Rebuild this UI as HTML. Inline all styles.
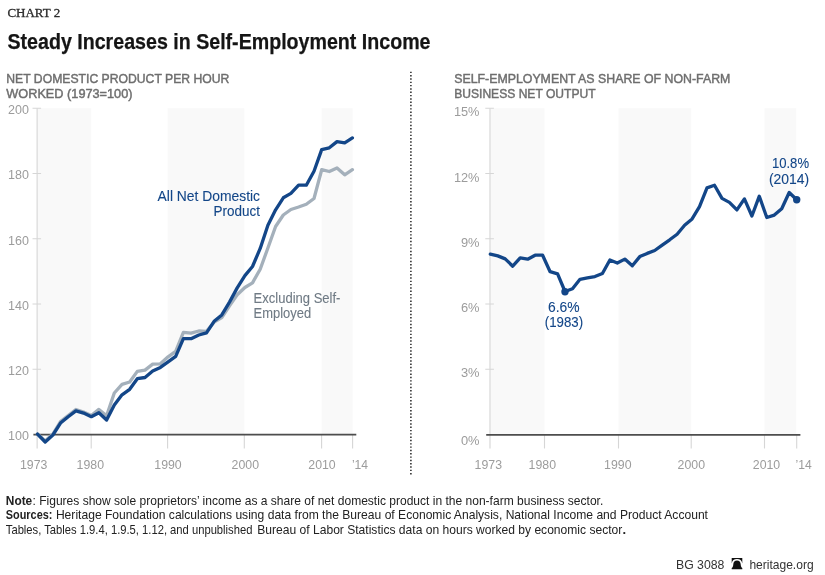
<!DOCTYPE html>
<html lang="en"><head><meta charset="utf-8"><title>Steady Increases in Self-Employment Income</title>
<style>html,body{margin:0;padding:0;background:#fff;overflow:hidden}svg{display:block}text{font-family:"Liberation Sans",Arial,sans-serif}.serif{font-family:"Liberation Serif","DejaVu Serif",serif}</style></head><body>
<svg width="825" height="575" viewBox="0 0 825 575">
<rect width="825" height="575" fill="#fff"/>
<text x="7.4" y="16.5" font-size="12" fill="#2b2b2b" class="serif" textLength="52.8" lengthAdjust="spacingAndGlyphs" stroke="#2b2b2b" stroke-width="0.3">CHART 2</text>
<text x="7.5" y="49.3" font-size="22.9" fill="#151515" font-weight="bold" textLength="423" lengthAdjust="spacingAndGlyphs" stroke="#151515" stroke-width="0.25">Steady Increases in Self-Employment Income</text>
<text x="6.3" y="83" font-size="13" fill="#6e6e6e" textLength="223.1" lengthAdjust="spacingAndGlyphs" stroke="#6e6e6e" stroke-width="0.45">NET DOMESTIC PRODUCT PER HOUR</text>
<text x="6.3" y="97.6" font-size="13" fill="#6e6e6e" textLength="126.2" lengthAdjust="spacingAndGlyphs" stroke="#6e6e6e" stroke-width="0.45">WORKED (1973=100)</text>
<text x="454.2" y="83" font-size="13" fill="#6e6e6e" textLength="276.2" lengthAdjust="spacingAndGlyphs" stroke="#6e6e6e" stroke-width="0.45">SELF-EMPLOYMENT AS SHARE OF NON-FARM</text>
<text x="454.2" y="97.6" font-size="13" fill="#6e6e6e" textLength="141.4" lengthAdjust="spacingAndGlyphs" stroke="#6e6e6e" stroke-width="0.45">BUSINESS NET OUTPUT</text>
<line x1="410.9" y1="71.7" x2="410.9" y2="474.5" stroke="#222" stroke-width="1.5" stroke-dasharray="1.4 1.9165"/>
<rect x="37.5" y="108.25" width="53.7" height="326.25" fill="#f9f9f9"/>
<rect x="167.6" y="108.25" width="76.7" height="326.25" fill="#f9f9f9"/>
<rect x="321.6" y="108.25" width="31.0" height="326.25" fill="#f9f9f9"/>
<rect x="490.3" y="108.25" width="54.2" height="326.25" fill="#f9f9f9"/>
<rect x="618.5" y="108.25" width="72.7" height="326.25" fill="#f9f9f9"/>
<rect x="764.5" y="108.25" width="31.7" height="326.25" fill="#f9f9f9"/>
<line x1="37.2" y1="108.25" x2="37.2" y2="448.5" stroke="#e2e2e2" stroke-width="1.6"/>
<line x1="32.5" y1="108.25" x2="41.1" y2="108.25" stroke="#d6d6d6" stroke-width="1"/>
<line x1="32.5" y1="173.50" x2="41.1" y2="173.50" stroke="#d6d6d6" stroke-width="1"/>
<line x1="32.5" y1="238.75" x2="41.1" y2="238.75" stroke="#d6d6d6" stroke-width="1"/>
<line x1="32.5" y1="304.00" x2="41.1" y2="304.00" stroke="#d6d6d6" stroke-width="1"/>
<line x1="32.5" y1="369.25" x2="41.1" y2="369.25" stroke="#d6d6d6" stroke-width="1"/>
<line x1="91.2" y1="434.5" x2="91.2" y2="448.5" stroke="#d6d6d6" stroke-width="1.1"/>
<line x1="167.6" y1="434.5" x2="167.6" y2="448.5" stroke="#d6d6d6" stroke-width="1.1"/>
<line x1="244.3" y1="434.5" x2="244.3" y2="448.5" stroke="#d6d6d6" stroke-width="1.1"/>
<line x1="321.6" y1="434.5" x2="321.6" y2="448.5" stroke="#d6d6d6" stroke-width="1.1"/>
<line x1="352.6" y1="434.5" x2="352.6" y2="448.5" stroke="#d6d6d6" stroke-width="1.1"/>
<line x1="490.0" y1="108.25" x2="490.0" y2="448.5" stroke="#e2e2e2" stroke-width="1.6"/>
<line x1="485.3" y1="108.25" x2="493.90000000000003" y2="108.25" stroke="#d6d6d6" stroke-width="1"/>
<line x1="485.3" y1="173.50" x2="493.90000000000003" y2="173.50" stroke="#d6d6d6" stroke-width="1"/>
<line x1="485.3" y1="238.75" x2="493.90000000000003" y2="238.75" stroke="#d6d6d6" stroke-width="1"/>
<line x1="485.3" y1="304.00" x2="493.90000000000003" y2="304.00" stroke="#d6d6d6" stroke-width="1"/>
<line x1="485.3" y1="369.25" x2="493.90000000000003" y2="369.25" stroke="#d6d6d6" stroke-width="1"/>
<line x1="544.5" y1="434.5" x2="544.5" y2="448.5" stroke="#d6d6d6" stroke-width="1.1"/>
<line x1="618.5" y1="434.5" x2="618.5" y2="448.5" stroke="#d6d6d6" stroke-width="1.1"/>
<line x1="691.2" y1="434.5" x2="691.2" y2="448.5" stroke="#d6d6d6" stroke-width="1.1"/>
<line x1="764.5" y1="434.5" x2="764.5" y2="448.5" stroke="#d6d6d6" stroke-width="1.1"/>
<line x1="796.7" y1="434.5" x2="796.7" y2="448.5" stroke="#d6d6d6" stroke-width="1.1"/>
<text x="28.9" y="114.05" font-size="12.5" fill="#9c9c9c" text-anchor="end">200</text>
<text x="28.9" y="179.3" font-size="12.5" fill="#9c9c9c" text-anchor="end">180</text>
<text x="28.9" y="244.55" font-size="12.5" fill="#9c9c9c" text-anchor="end">160</text>
<text x="28.9" y="309.8" font-size="12.5" fill="#9c9c9c" text-anchor="end">140</text>
<text x="28.9" y="375.05" font-size="12.5" fill="#9c9c9c" text-anchor="end">120</text>
<text x="28.9" y="440.3" font-size="12.5" fill="#9c9c9c" text-anchor="end">100</text>
<text x="479.5" y="116.35" font-size="13.6" fill="#9c9c9c" text-anchor="end" textLength="25.6" lengthAdjust="spacingAndGlyphs">15%</text>
<text x="479.5" y="181.6" font-size="13.6" fill="#9c9c9c" text-anchor="end" textLength="25.6" lengthAdjust="spacingAndGlyphs">12%</text>
<text x="479.5" y="246.85" font-size="13.6" fill="#9c9c9c" text-anchor="end" textLength="18.6" lengthAdjust="spacingAndGlyphs">9%</text>
<text x="479.5" y="312.1" font-size="13.6" fill="#9c9c9c" text-anchor="end" textLength="18.6" lengthAdjust="spacingAndGlyphs">6%</text>
<text x="479.5" y="377.35" font-size="13.6" fill="#9c9c9c" text-anchor="end" textLength="18.6" lengthAdjust="spacingAndGlyphs">3%</text>
<text x="479.5" y="444.5" font-size="13.6" fill="#9c9c9c" text-anchor="end" textLength="18.6" lengthAdjust="spacingAndGlyphs">0%</text>
<text x="33.7" y="468.7" font-size="12.5" fill="#9c9c9c" text-anchor="middle" textLength="27.4" lengthAdjust="spacingAndGlyphs">1973</text>
<text x="90.3" y="468.7" font-size="12.5" fill="#9c9c9c" text-anchor="middle" textLength="27.4" lengthAdjust="spacingAndGlyphs">1980</text>
<text x="168.0" y="468.7" font-size="12.5" fill="#9c9c9c" text-anchor="middle" textLength="27.4" lengthAdjust="spacingAndGlyphs">1990</text>
<text x="245.3" y="468.7" font-size="12.5" fill="#9c9c9c" text-anchor="middle" textLength="27.4" lengthAdjust="spacingAndGlyphs">2000</text>
<text x="322.0" y="468.7" font-size="12.5" fill="#9c9c9c" text-anchor="middle" textLength="27.4" lengthAdjust="spacingAndGlyphs">2010</text>
<text x="351.9" y="468.7" font-size="12.5" fill="#9c9c9c" textLength="16.2" lengthAdjust="spacingAndGlyphs">’14</text>
<text x="488.3" y="468.7" font-size="12.5" fill="#9c9c9c" text-anchor="middle" textLength="27.4" lengthAdjust="spacingAndGlyphs">1973</text>
<text x="542.3" y="468.7" font-size="12.5" fill="#9c9c9c" text-anchor="middle" textLength="27.4" lengthAdjust="spacingAndGlyphs">1980</text>
<text x="617.8" y="468.7" font-size="12.5" fill="#9c9c9c" text-anchor="middle" textLength="27.4" lengthAdjust="spacingAndGlyphs">1990</text>
<text x="691.3" y="468.7" font-size="12.5" fill="#9c9c9c" text-anchor="middle" textLength="27.4" lengthAdjust="spacingAndGlyphs">2000</text>
<text x="766.5" y="468.7" font-size="12.5" fill="#9c9c9c" text-anchor="middle" textLength="27.4" lengthAdjust="spacingAndGlyphs">2010</text>
<text x="795.6" y="468.7" font-size="12.5" fill="#9c9c9c" textLength="16.2" lengthAdjust="spacingAndGlyphs">’14</text>
<line x1="33.4" y1="434.6" x2="356.3" y2="434.6" stroke="#4d4d4d" stroke-width="1.7"/>
<line x1="486.2" y1="434.8" x2="800.4" y2="434.8" stroke="#4d4d4d" stroke-width="1.7"/>
<polyline points="37.5,434.1 45.2,441.0 52.9,434.0 60.5,421.5 68.2,415.5 75.9,409.5 83.6,412.0 91.3,415.5 98.9,409.4 106.6,415.8 114.3,393.0 122.0,384.4 129.7,382.0 137.3,371.4 145.0,370.1 152.7,364.1 160.4,363.8 168.1,356.8 175.7,351.3 183.4,332.3 191.1,333.2 198.8,331.0 206.5,331.4 214.1,322.2 221.8,317.7 229.5,305.8 237.2,294.8 244.9,287.5 252.5,282.9 260.2,269.2 267.9,248.0 275.6,226.5 283.3,215.0 290.9,209.5 298.6,207.0 306.3,204.3 314.0,198.5 321.7,169.7 329.3,171.5 337.0,167.9 344.7,174.8 352.4,169.7" fill="none" stroke="#a4b0bb" stroke-width="3.3" stroke-linejoin="round" stroke-linecap="round"/>
<polyline points="37.5,434.1 45.2,442.0 52.9,435.0 60.5,423.1 68.2,416.7 75.9,410.9 83.6,413.1 91.3,416.7 98.9,412.7 106.6,420.0 114.3,404.9 122.0,394.8 129.7,389.3 137.3,378.7 145.0,377.5 152.7,371.0 160.4,367.4 168.1,361.9 175.7,356.4 183.4,338.7 191.1,338.7 198.8,335.0 206.5,332.8 214.1,321.3 221.8,314.9 229.5,302.1 237.2,287.9 244.9,275.6 252.5,266.5 260.2,248.4 267.9,225.2 275.6,209.8 283.3,197.8 290.9,193.4 298.6,185.2 306.3,185.2 314.0,171.2 321.7,149.6 329.3,147.8 337.0,141.6 344.7,142.8 352.4,137.9" fill="none" stroke="#134688" stroke-width="3.3" stroke-linejoin="round" stroke-linecap="round"/>
<polyline points="490.3,254.1 497.8,255.9 505.2,258.9 512.7,266.2 520.2,257.8 527.7,259.2 535.1,255.2 542.6,255.2 550.1,271.7 557.6,273.9 565.0,291.5 572.5,288.8 580.0,279.3 587.4,277.9 594.9,276.6 602.4,273.5 609.9,260.0 617.3,263.0 624.8,259.1 632.3,265.8 639.8,256.6 647.2,253.4 654.7,250.5 662.2,245.1 669.7,239.8 677.1,234.2 684.6,225.2 692.1,218.9 699.5,206.7 707.0,187.9 714.5,185.3 722.0,198.4 729.4,202.4 736.9,209.9 744.4,198.9 751.9,216.0 759.3,196.2 766.8,217.5 774.3,215.1 781.7,208.7 789.2,192.5 796.7,199.8" fill="none" stroke="#134688" stroke-width="3.3" stroke-linejoin="round" stroke-linecap="round"/>
<circle cx="565.0" cy="291.8" r="3.7" fill="#134688"/>
<circle cx="796.7" cy="199.8" r="3.7" fill="#134688"/>
<text x="260" y="200.5" font-size="14.2" fill="#134688" text-anchor="end" textLength="102.4" lengthAdjust="spacingAndGlyphs" stroke="#134688" stroke-width="0.1">All Net Domestic</text>
<text x="260" y="216" font-size="14.2" fill="#134688" text-anchor="end" textLength="46.4" lengthAdjust="spacingAndGlyphs" stroke="#134688" stroke-width="0.1">Product</text>
<text x="253.6" y="302.7" font-size="14.2" fill="#6f7a84" textLength="86.8" lengthAdjust="spacingAndGlyphs" stroke="#6f7a84" stroke-width="0.1">Excluding Self-</text>
<text x="253.6" y="318.2" font-size="14.2" fill="#6f7a84" textLength="57.5" lengthAdjust="spacingAndGlyphs" stroke="#6f7a84" stroke-width="0.1">Employed</text>
<text x="563.8" y="312.3" font-size="14.2" fill="#134688" text-anchor="middle" textLength="31.6" lengthAdjust="spacingAndGlyphs" stroke="#134688" stroke-width="0.1">6.6%</text>
<text x="564" y="327" font-size="14.2" fill="#134688" text-anchor="middle" textLength="38.3" lengthAdjust="spacingAndGlyphs" stroke="#134688" stroke-width="0.1">(1983)</text>
<text x="790.5" y="167.6" font-size="14.2" fill="#134688" text-anchor="middle" textLength="37.1" lengthAdjust="spacingAndGlyphs" stroke="#134688" stroke-width="0.1">10.8%</text>
<text x="789" y="184.3" font-size="14.2" fill="#134688" text-anchor="middle" textLength="40.2" lengthAdjust="spacingAndGlyphs" stroke="#134688" stroke-width="0.1">(2014)</text>
<text x="5.8" y="504.8" font-size="13" fill="#222" font-weight="bold" textLength="26.4" lengthAdjust="spacingAndGlyphs">Note</text>
<text x="32.5" y="504.8" font-size="13" fill="#222" textLength="570.8" lengthAdjust="spacingAndGlyphs">: Figures show sole proprietors’ income as a share of net domestic product in the non-farm business sector.</text>
<text x="5.8" y="519.3" font-size="13" fill="#222" font-weight="bold" textLength="46.6" lengthAdjust="spacingAndGlyphs">Sources:</text>
<text x="55.9" y="519.3" font-size="13" fill="#222" textLength="652.1" lengthAdjust="spacingAndGlyphs">Heritage Foundation calculations using data from the Bureau of Economic Analysis, National Income and Product Account</text>
<text x="5.8" y="533.9" font-size="13" fill="#222" textLength="246.6" lengthAdjust="spacingAndGlyphs">Tables, Tables 1.9.4, 1.9.5, 1.12, and unpublished</text>
<text x="257.3" y="533.9" font-size="13" fill="#222" textLength="365" lengthAdjust="spacingAndGlyphs">Bureau of Labor Statistics data on hours worked by economic sector</text>
<text x="622.6" y="533.9" font-size="13" fill="#222" font-weight="bold">.</text>
<text x="676" y="568.6" font-size="13" fill="#333" textLength="48.4" lengthAdjust="spacingAndGlyphs">BG 3088</text>
<text x="749.4" y="568.6" font-size="13" fill="#333" textLength="64.2" lengthAdjust="spacingAndGlyphs">heritage.org</text>
<g fill="#111"><path d="M731.7 558.1H742.3V563.4C741.8 560.6 740 559.1 737 559.1C734 559.1 732.2 560.6 731.7 563.4Z"/><path d="M737 560.6C739.3 560.6 740.6 562 740.7 564.3C740.8 566.2 741.2 567.400 742.300 568.1V569.3H731.7V568.1C732.8 567.4 733.2 566.2 733.300 564.3C733.400 562 734.700 560.600 737 560.600Z"/></g>
</svg></body></html>
